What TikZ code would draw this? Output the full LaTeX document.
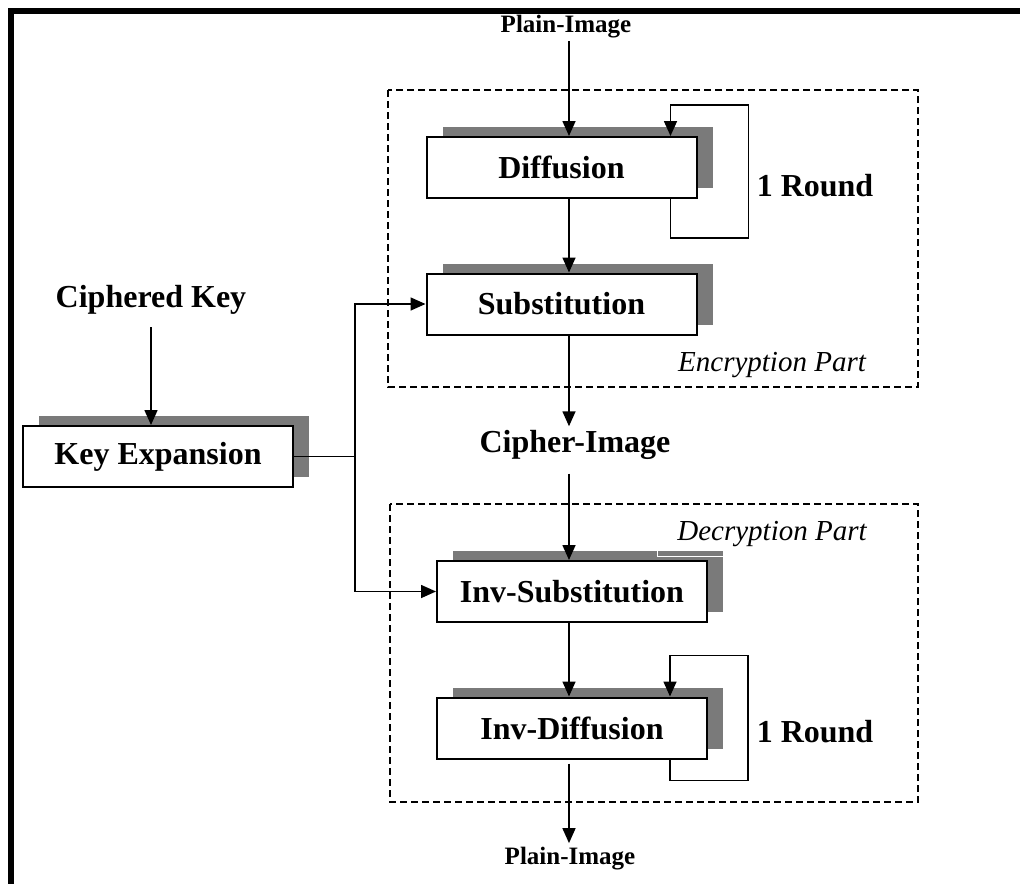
\documentclass[tikz,border=0pt]{standalone}
\usepackage{fontspec}
\setmainfont{Liberation Serif}
\usetikzlibrary{arrows.meta,shadows}

\begin{document}
\begin{tikzpicture}[x=1pt,y=-1pt,
  blk/.style={draw,line width=2pt,fill=white,minimum width=270,minimum height=61,inner sep=0pt,
    font=\fontsize{32}{38}\selectfont\bfseries,
    general shadow={fill=black!52,shadow xshift=16pt,shadow yshift=10pt}},
  lbl/.style={font=\fontsize{32}{38}\selectfont\bfseries,anchor=base},
  small/.style={font=\fontsize{25}{30}\selectfont\bfseries,anchor=base},
  part/.style={font=\fontsize{29}{34}\selectfont\itshape,anchor=base},
  arr/.style={line width=1.6pt,-{Triangle[length=15pt,width=13pt]}},
  ln/.style={line width=1.6pt},
  region/.style={line width=1.4pt,dash pattern=on 7pt off 4pt}]
\useasboundingbox (0,0) rectangle (1020,884);
\fill (8,8) rectangle (1020,14);
\fill (8,8) rectangle (14,884);
\draw[region] (388,90) rectangle (918,387);
\draw[region] (390,504) rectangle (918,802);

\node[blk] (diff) at (561.5,167.5) {Diffusion};
\node[blk] (sub) at (561.5,304) {Substitution};
\node[blk] (keyexp) at (158,456.5) {Key Expansion};
\node[blk] (invsub) at (572,591.5) {Inv-Substitution};
\node[blk] (invdiff) at (572,728) {Inv-Diffusion};

\node[small] (plainin) at (566,32) {Plain-Image};
\node[lbl] (ckey) at (151,307) {Ciphered Key};
\node[lbl] (cipher) at (575,452) {Cipher-Image};
\node[small] (plainout) at (570,864) {Plain-Image};
\node[lbl] (round1) at (815,196) {1 Round};
\node[lbl] (round2) at (815,742) {1 Round};
\node[part] (enc) at (772,371) {Encryption Part};
\node[part,draw=white,line width=1.2pt,inner xsep=20pt,inner ysep=10pt] (dec) at (772,540) {Decryption Part};
\coordinate (col) at (569,0);
\coordinate (bus) at (355,456.5);

\draw[arr] (plainin.south -| col) -- (diff.north -| col);
\draw[arr] (diff.south -| col) -- (sub.north -| col);
\draw[arr] (sub.south -| col) -- (cipher.north -| col);
\draw[arr,shorten <=11pt] (cipher.south -| col) -- (invsub.north -| col);
\draw[arr] (invsub.south -| col) -- (invdiff.north -| col);
\draw[arr,shorten <=4pt] (invdiff.south -| col) -- (plainout.north -| col);

\draw[arr,shorten <=10pt] (ckey.south) -- (ckey.south |- keyexp.north);
\draw[ln] (keyexp.east) -- (bus);
\draw[arr] (bus) |- (sub.west);
\draw[arr] (bus) |- (invsub.west);

\draw[arr] ([xshift=-27pt]diff.south east) -- ++(0,39) -- ++(78,0) -- ++(0,-133) -- ++(-78,0) -- ([xshift=-27pt]diff.north east);
\draw[arr] ([xshift=-38pt]invdiff.south east) -- ++(0,21) -- ++(78,0) -- ++(0,-125) -- ++(-78,0) -- ([xshift=-38pt]invdiff.north east);
\end{tikzpicture}
\end{document}
